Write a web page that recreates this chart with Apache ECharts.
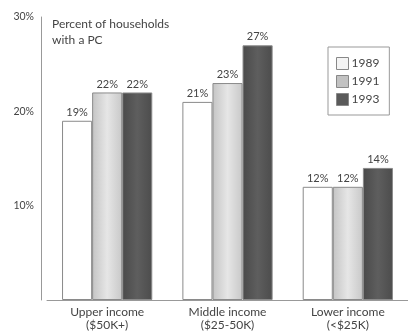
<!DOCTYPE html>
<html><head><meta charset="utf-8">
<script src="https://cdn.jsdelivr.net/npm/echarts@6/dist/echarts.min.js"></script>
<style>html,body{margin:0;padding:0;background:#fff}#c{width:408px;height:334px}</style>
</head><body><div id="c"></div>
<script>
const categories = ['Upper income\n($50K+)', 'Middle income\n($25-50K)', 'Lower income\n(<$25K)'];
const years = ['1989', '1991', '1993'];
const v1989 = [19, 21, 12];
const v1991 = [22, 23, 12];
const v1993 = [22, 27, 14];
const yTicks = [0, 10, 20, 30];

const font = 'Lato, "Open Sans", sans-serif';
const fills = [
  '#ffffff',
  {type:'linear',x:0,y:0,x2:1,y2:0,colorStops:[{offset:0,color:'#c4c4c4'},{offset:0.5,color:'#e6e6e6'},{offset:1,color:'#c8c8c8'}]},
  {type:'linear',x:0,y:0,x2:1,y2:0,colorStops:[{offset:0,color:'#4a4a4a'},{offset:0.5,color:'#5e5e5e'},{offset:1,color:'#4c4c4c'}]}
];
const legendColors = ['#f4f4f4', '#c2c2c2', '#5a5a5a'];
const data = [v1989, v1991, v1993];

const chart = echarts.init(document.getElementById('c'), null, {renderer:'canvas'});
chart.setOption({
  animation: false,
  backgroundColor: '#fff',
  title: {
    text: 'Percent of households\nwith a PC',
    left: 52, top: 16, padding: 0,
    textStyle: {fontFamily: font, fontSize: 12, fontWeight: 'normal', color: '#444', lineHeight: 16}
  },
  legend: {
    orient: 'vertical', left: 328, top: 47,
    icon: 'rect',
    itemWidth: 12, itemHeight: 12, itemGap: 5,
    padding: [10, 10, 9, 8],
    borderColor: '#999', borderWidth: 1,
    textStyle: {fontFamily: font, fontSize: 12, color: '#444', padding: [0,0,0,-2]},
    data: years.map((y, i) => ({name: y, itemStyle: {color: legendColors[i], borderColor: '#888', borderWidth: 1}}))
  },
  grid: {left: 47, right: -1, top: 17, bottom: 34, containLabel: false},
  xAxis: {
    type: 'category', data: categories,
    axisLine: {lineStyle: {color: '#999', width: 1}},
    axisTick: {show: false},
    axisLabel: {fontFamily: font, fontSize: 12, color: '#444', lineHeight: 13, margin: 6, interval: 0}
  },
  yAxis: {
    type: 'value', min: 0, max: 30, interval: 10, offset: 6,
    axisLine: {show: true, lineStyle: {color: '#999', width: 1}},
    axisTick: {show: false},
    splitLine: {show: false},
    axisLabel: {fontFamily: font, fontSize: 10.5, color: '#444', margin: 7,
      formatter: v => v === 0 ? '' : v + '%'}
  },
  series: years.map((y, i) => ({
    name: y, type: 'bar', data: data[i],
    barGap: '0%', barCategoryGap: '25%',
    itemStyle: {color: fills[i], borderColor: '#8a8a8a', borderWidth: 1},
    label: {show: true, position: 'top', distance: 3, fontFamily: font, fontSize: 11, color: '#444', formatter: '{c}%'}
  }))
});
</script></body></html>
